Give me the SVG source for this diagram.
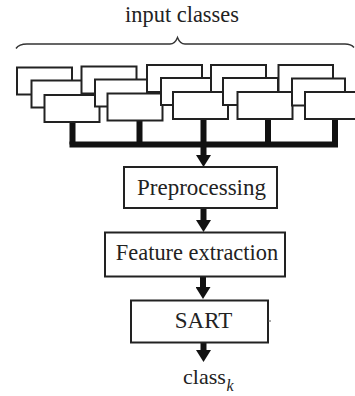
<svg xmlns="http://www.w3.org/2000/svg" width="355" height="396" viewBox="0 0 355 396">
  <style>
    .card { fill: #ffffff; stroke: #222222; stroke-width: 2; }
    .box { fill: #ffffff; stroke: #222222; stroke-width: 2; }
    .lbl { font-family: "Liberation Serif", "Times New Roman", serif; fill: #222222; }
    .wire { stroke: #111111; stroke-width: 6; fill: none; }
    .shaft { stroke: #111111; stroke-width: 6; fill: none; marker-end: url(#head); }
    .brace { stroke: #333333; stroke-width: 1.4; fill: none; }
  </style>
  <defs>
    <marker id="head" markerUnits="userSpaceOnUse" viewBox="0 0 12 15" refX="0" refY="7.5" markerWidth="12" markerHeight="15" orient="auto">
      <path d="M0,0 L12,7.5 L0,15 Z" fill="#111111"/>
    </marker>
  </defs>
  <rect width="355" height="396" fill="#ffffff"/>

  <g id="connectors">
    <path class="wire" d="M72.5,121 V144.5 M139.5,119.5 V144.5 M203.5,118 V144.5 M268,118 V144.5 M335,118 V144.5"/>
    <path class="wire" d="M69.5,144.5 H338" stroke-width="7"/>
    <line class="shaft" x1="203.5" y1="146" x2="203.5" y2="155"/>
    <line class="shaft" x1="203.5" y1="208" x2="203.5" y2="220"/>
    <line class="shaft" x1="203" y1="276" x2="203" y2="287"/>
    <line class="shaft" x1="203.5" y1="342" x2="203.5" y2="350"/>
  </g>

  <g id="input-classes">
    <text class="lbl" x="182" y="22" font-size="22.4" text-anchor="middle">input classes</text>
    <path class="brace" d="M16,48.5 Q19,44 27,44 L170,44 Q175,44 177.5,37.5 Q180,44 185,44 L345,44 Q351,44 354,47.5"/>
    <g id="col1">
      <rect class="card" x="17" y="67.5" width="55" height="27"/>
      <rect class="card" x="31.5" y="80.5" width="55" height="27"/>
      <rect class="card" x="44.5" y="95" width="55" height="27"/>
    </g>
    <g id="col2">
      <rect class="card" x="81.5" y="66.5" width="55" height="27"/>
      <rect class="card" x="95" y="79.5" width="55" height="27"/>
      <rect class="card" x="107.5" y="93.5" width="55" height="27"/>
    </g>
    <g id="col3">
      <rect class="card" x="147" y="65" width="55" height="27"/>
      <rect class="card" x="161" y="78" width="55" height="27"/>
      <rect class="card" x="173" y="92" width="55" height="27"/>
    </g>
    <g id="col4">
      <rect class="card" x="211" y="65" width="55" height="27"/>
      <rect class="card" x="223" y="78" width="55" height="27"/>
      <rect class="card" x="237.5" y="92" width="55" height="27"/>
    </g>
    <g id="col5">
      <rect class="card" x="278.5" y="65" width="54.5" height="27"/>
      <rect class="card" x="292" y="78.5" width="53" height="27"/>
      <rect class="card" x="305" y="92" width="55" height="27"/>
    </g>
  </g>

  <g id="preprocessing">
    <rect class="box" x="124" y="167" width="153" height="41"/>
    <text class="lbl" x="201.5" y="195" font-size="23" text-anchor="middle">Preprocessing</text>
  </g>

  <g id="feature-extraction">
    <rect class="box" x="105" y="232.5" width="180" height="44"/>
    <text class="lbl" x="197" y="260" font-size="22.4" text-anchor="middle">Feature extraction</text>
  </g>

  <g id="sart">
    <rect class="box" x="131" y="300.5" width="137" height="42"/>
    <line x1="268" y1="321" x2="271" y2="321" stroke="#555555" stroke-width="1"/>
    <text class="lbl" x="203.5" y="328" font-size="23" text-anchor="middle">SART</text>
  </g>

  <g id="output-class">
    <text class="lbl" x="183" y="384" font-size="22">class<tspan x="226.5" y="391" font-size="16" font-style="italic">k</tspan></text>
  </g>
</svg>
